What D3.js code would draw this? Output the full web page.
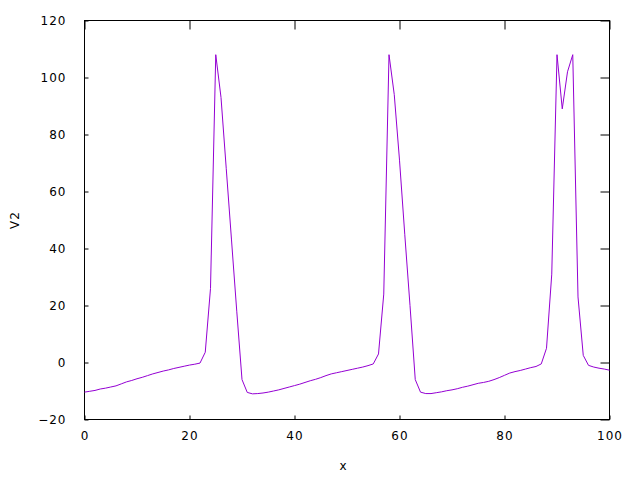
<!DOCTYPE html>
<html>
<head>
<meta charset="utf-8">
<script src="https://cdn.jsdelivr.net/npm/d3@7"></script>
<style>
  html, body { margin: 0; padding: 0; background: #fff; }
  svg { display: block; }
  text { font-family: "DejaVu Sans", sans-serif; font-size: 12px; fill: #000; letter-spacing: 1px; }
</style>
</head>
<body>
<svg id="chart" width="640" height="480"></svg>
<script>
const xValues = d3.range(0, 101);
const v2Values = [
  -10.4, -10.1, -9.8, -9.3, -9.0, -8.6, -8.2, -7.5, -6.8, -6.3,
  -5.7, -5.2, -4.6, -4.0, -3.5, -3.0, -2.6, -2.1, -1.7, -1.3,
  -0.9, -0.6, -0.2, 3.6, 26, 108, 93, 68, 43, 18,
  -6, -10.5, -11, -10.9, -10.7, -10.4, -10.0, -9.6, -9.1, -8.6,
  -8.1, -7.6, -7.0, -6.4, -5.9, -5.3, -4.6, -4.0, -3.6, -3.2,
  -2.8, -2.4, -2.0, -1.6, -1.1, -0.5, 3, 24, 108, 94,
  71, 45, 20, -6, -10.4, -10.9, -10.9, -10.6, -10.3, -9.9,
  -9.6, -9.2, -8.7, -8.3, -7.8, -7.3, -7.0, -6.6, -6.0, -5.3,
  -4.5, -3.7, -3.2, -2.8, -2.3, -1.8, -1.4, -0.5, 5, 31,
  108, 89, 102, 108, 23, 2.5, -1, -1.6, -2, -2.3,
  -2.7
];
const xTicks = [0, 20, 40, 60, 80, 100];
const yTicks = [-20, 0, 20, 40, 60, 80, 100, 120];
const xLabel = "x";
const yLabel = "V2";

const svg = d3.select("#chart");
const mLeft = 84.5, mRight = 609.5, mTop = 20.5, mBottom = 419.5;

const x = d3.scaleLinear().domain([0, 100]).range([mLeft, mRight]);
const y = d3.scaleLinear().domain([-20, 120]).range([mBottom, mTop]);

const gB = svg.append("g").attr("transform", `translate(0,${mBottom})`)
  .call(d3.axisBottom(x).tickValues(xTicks).tickSizeInner(-4).tickSizeOuter(0).tickPadding(12));
const gL = svg.append("g").attr("transform", `translate(${mLeft},0)`)
  .call(d3.axisLeft(y).tickValues(yTicks).tickSizeInner(-4).tickSizeOuter(0).tickPadding(18));
const gT = svg.append("g").attr("transform", `translate(0,${mTop})`)
  .call(d3.axisTop(x).tickValues(xTicks).tickSizeInner(-9).tickSizeOuter(0).tickFormat(""));
const gR = svg.append("g").attr("transform", `translate(${mRight},0)`)
  .call(d3.axisRight(y).tickValues(yTicks).tickSizeInner(-9).tickSizeOuter(0).tickFormat(""));

[gB, gL, gT, gR].forEach(g => {
  g.select(".domain").remove();
  g.selectAll("line").attr("stroke", "#000").attr("stroke-width", 1);
  g.selectAll("text").attr("font-family", null).attr("font-size", null).attr("fill", "#000");
});
gB.selectAll("text").attr("dy", "0.71em");

svg.append("rect")
  .attr("x", mLeft).attr("y", mTop)
  .attr("width", mRight - mLeft).attr("height", mBottom - mTop)
  .attr("fill", "none").attr("stroke", "#000").attr("stroke-width", 1);

const line = d3.line().x((d, i) => x(xValues[i])).y(d => y(d));
svg.append("path")
  .datum(v2Values)
  .attr("fill", "none")
  .attr("stroke", "#9400D3")
  .attr("stroke-width", 1)
  .attr("d", line);

svg.append("text")
  .attr("x", 343.5).attr("y", 470)
  .attr("text-anchor", "middle")
  .text(xLabel);
svg.append("text")
  .attr("transform", `translate(19,${(mTop + mBottom) / 2}) rotate(-90)`)
  .attr("text-anchor", "middle")
  .text(yLabel);
</script>
</body>
</html>
